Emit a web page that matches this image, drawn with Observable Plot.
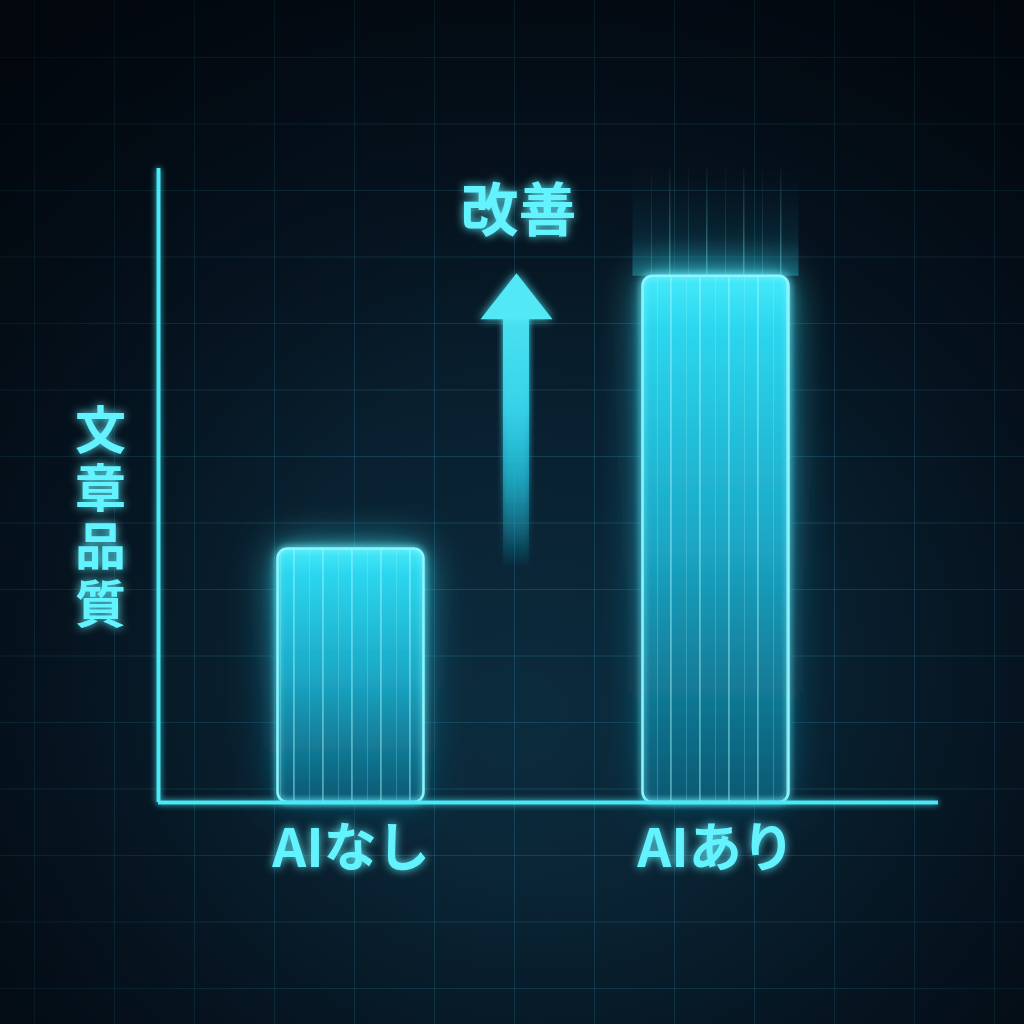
<!DOCTYPE html>
<html><head><meta charset="utf-8">
<script src="https://cdn.jsdelivr.net/npm/d3@7"></script>
<script src="https://cdn.jsdelivr.net/npm/@observablehq/plot@0.6"></script>
<style>
html,body{margin:0;padding:0;background:#030a12;}
#chart{position:relative;width:1024px;height:1024px;overflow:hidden;
 background:
  radial-gradient(ellipse 75% 75% at 55% 60%, rgba(0,0,0,0) 35%, rgba(2,6,12,0.75) 100%),
  linear-gradient(rgba(45,140,170,0.28) 1px, transparent 1px) 0 57px/100% 66.5px,
  linear-gradient(90deg, rgba(45,140,170,0.28) 1px, transparent 1px) 34px 0/80px 100%,
  radial-gradient(ellipse 90% 80% at 50% 70%, #0c2c3e 0%, #081d2c 45%, #030b15 100%);
}
#chart svg{position:absolute;left:0;top:0;}
</style>
</head><body>
<div id="chart"></div>
<script>
// ---- data ----
const categories = ["AIなし", "AIあり"];
const values = [40, 83];
const yLabel = "文章品質";
const arrowLabel = "改善";

const data = categories.map((c, i) => ({category: c, index: i, value: values[i]}));
const before = data[0], after = data[1];
const mid = (before.index + after.index) / 2;
const xDomain = [-0.5274, 1.6096];
const half = 0.2;
const font = "'Noto Sans CJK JP', 'Noto Sans', sans-serif";
const textColor = "#64f3ff";
const tag = name => () => name;

const arrowHead = {
  draw(ctx) {
    ctx.moveTo(0, -3);
    ctx.lineTo(36, 43);
    ctx.lineTo(-36, 43);
    ctx.closePath();
  }
};

const plot = Plot.plot({
  width: 1024, height: 1024,
  marginLeft: 158, marginRight: 86, marginTop: 168, marginBottom: 222,
  style: {background: "transparent", overflow: "visible", fontFamily: font},
  x: {type: "linear", domain: xDomain, axis: null},
  y: {domain: [0, 100], axis: null},
  marks: [
    Plot.rectY(data.filter(d => d.index === after.index), {
      x1: d => d.index - half, x2: d => d.index + half, y1: "value", y2: () => 100,
      insetLeft: -10, insetRight: -10,
      fill: "url(#halo)", ariaLabel: tag("halo")
    }),
    Plot.rectY(data.filter(d => d.index === after.index), {
      x1: d => d.index - half, x2: d => d.index + half, y1: "value", y2: () => 100,
      fill: "url(#haloStreaks)", ariaLabel: tag("halo-streaks")
    }),
    Plot.rectY(data, {
      x1: d => d.index - half, x2: d => d.index + half, y: "value",
      fill: "url(#barGrad)", rx: 10, ariaLabel: tag("bars")
    }),
    Plot.rectY(data, {
      x1: d => d.index - half, x2: d => d.index + half, y: "value",
      fill: "url(#streaks)", rx: 10, ariaLabel: tag("streaks")
    }),
    Plot.rectY(data, {
      x1: d => d.index - half, x2: d => d.index + half, y: "value",
      fill: "none", stroke: "#8af7ff", strokeWidth: 2.5, rx: 10, ariaLabel: tag("bar-edges")
    }),
    // improvement arrow: from before value to after value
    Plot.rectY([{}], {
      x1: () => mid, x2: () => mid, y1: () => before.value - 3, y2: () => after.value - 6,
      insetLeft: -13, insetRight: -13, dx: -17,
      fill: "url(#shaftGrad)", ariaLabel: tag("arrow-shaft")
    }),
    Plot.dot([{}], {
      x: () => mid, y: () => after.value, dx: -17,
      symbol: arrowHead, r: 20, fill: "#52e8f6", stroke: "none", ariaLabel: tag("arrow-head")
    }),
    Plot.text([arrowLabel], {
      x: () => mid, frameAnchor: "top", lineAnchor: "middle", dx: -15, dy: 44,
      text: d => d, fontSize: 58, fontWeight: 700, fill: textColor, ariaLabel: tag("glow-text")
    }),
    // axes
    Plot.ruleY([0], {stroke: "#4aeaf8", strokeWidth: 3.5, ariaLabel: tag("axis-line")}),
    Plot.ruleX([xDomain[0]], {stroke: "#4aeaf8", strokeWidth: 3.5, ariaLabel: tag("axis-line")}),
    // category labels
    Plot.text(data, {
      x: "index", y: () => 0, text: "category", dy: 48,
      fontSize: 53, fontWeight: 700, fill: textColor, ariaLabel: tag("glow-text")
    }),
    // y label (vertical writing)
    Plot.text([yLabel], {
      frameAnchor: "left", textAnchor: "middle", dx: -58, dy: 18, text: d => d,
      fontSize: 51, fontWeight: 700, fill: textColor, ariaLabel: tag("y-label")
    })
  ]
});

const svg = d3.select(plot);
svg.insert("defs", ":first-child").html(`
  <linearGradient id="barGrad" x1="0" y1="0" x2="0" y2="1">
    <stop offset="0" stop-color="#46eafa"/>
    <stop offset="0.1" stop-color="#2cd6ee"/>
    <stop offset="0.5" stop-color="#1ba8c6"/>
    <stop offset="1" stop-color="#0b5872"/>
  </linearGradient>
  <linearGradient id="halo" x1="0" y1="1" x2="0" y2="0">
    <stop offset="0" stop-color="#2fd6ee" stop-opacity="0.35"/>
    <stop offset="0.35" stop-color="#1aa8c8" stop-opacity="0.12"/>
    <stop offset="1" stop-color="#0a6080" stop-opacity="0"/>
  </linearGradient>
  <linearGradient id="haloFade" x1="0" y1="1" x2="0" y2="0">
    <stop offset="0" stop-color="#fff" stop-opacity="1"/>
    <stop offset="1" stop-color="#fff" stop-opacity="0.1"/>
  </linearGradient>
  <mask id="haloMask" maskContentUnits="objectBoundingBox">
    <rect width="1" height="1" fill="url(#haloFade)"/>
  </mask>
  <pattern id="haloStreaks" patternUnits="userSpaceOnUse" width="37" height="10">
    <rect x="3" width="1.5" height="10" fill="rgba(130,240,255,0.4)"/>
    <rect x="22" width="1" height="10" fill="rgba(130,240,255,0.22)"/>
  </pattern>
  <pattern id="streaks" patternUnits="userSpaceOnUse" width="29" height="10">
    <rect x="3" width="1.8" height="10" fill="rgba(170,250,255,0.45)"/>
    <rect x="19" width="1" height="10" fill="rgba(170,250,255,0.22)"/>
  </pattern>
  <linearGradient id="shaftGrad" x1="0" y1="1" x2="0" y2="0">
    <stop offset="0" stop-color="#1aa6c4" stop-opacity="0"/>
    <stop offset="0.35" stop-color="#22bcd8" stop-opacity="0.6"/>
    <stop offset="0.65" stop-color="#38d4ea" stop-opacity="0.95"/>
    <stop offset="1" stop-color="#4ae2f2" stop-opacity="1"/>
  </linearGradient>
  <filter id="barGlow" x="-50%" y="-40%" width="200%" height="180%">
    <feGaussianBlur in="SourceGraphic" stdDeviation="22" result="b2"/>
    <feComponentTransfer in="b2" result="b2a"><feFuncA type="linear" slope="0.7"/></feComponentTransfer>
    <feGaussianBlur in="SourceGraphic" stdDeviation="8" result="b1"/>
    <feComponentTransfer in="b1" result="b1a"><feFuncA type="linear" slope="0.7"/></feComponentTransfer>
    <feMerge><feMergeNode in="b2a"/><feMergeNode in="b1a"/><feMergeNode in="SourceGraphic"/></feMerge>
  </filter>
  <filter id="edgeGlow" x="-20%" y="-20%" width="140%" height="140%">
    <feGaussianBlur in="SourceGraphic" stdDeviation="3" result="b"/>
    <feMerge><feMergeNode in="b"/><feMergeNode in="SourceGraphic"/></feMerge>
  </filter>
  <filter id="textGlow" x="-30%" y="-30%" width="160%" height="160%">
    <feGaussianBlur in="SourceGraphic" stdDeviation="5" result="b"/>
    <feComponentTransfer in="b" result="ba"><feFuncA type="linear" slope="0.9"/></feComponentTransfer>
    <feMerge><feMergeNode in="ba"/><feMergeNode in="SourceGraphic"/></feMerge>
  </filter>
  <filter id="lineGlow" filterUnits="userSpaceOnUse" x="0" y="0" width="1024" height="1024">
    <feGaussianBlur in="SourceGraphic" stdDeviation="3" result="b"/>
    <feMerge><feMergeNode in="b"/><feMergeNode in="SourceGraphic"/><feMergeNode in="SourceGraphic"/></feMerge>
  </filter>
`);
function applyTo(name, attr, value, onParent) {
  svg.selectAll(`[aria-label="${name}"]`).each(function() {
    const el = onParent ? this.parentNode : this;
    d3.select(el).attr(attr, value);
  });
}
applyTo("bars", "filter", "url(#barGlow)", true);
applyTo("bar-edges", "filter", "url(#edgeGlow)", true);
applyTo("glow-text", "filter", "url(#textGlow)", false);
applyTo("y-label", "filter", "url(#textGlow)", false);
applyTo("y-label", "writing-mode", "vertical-rl", false);
applyTo("y-label", "letter-spacing", "7", false);
applyTo("y-label", "dy", null, false);
applyTo("axis-line", "filter", "url(#lineGlow)", false);
applyTo("arrow-head", "filter", "url(#textGlow)", false);
applyTo("arrow-shaft", "filter", "url(#edgeGlow)", false);
applyTo("halo-streaks", "mask", "url(#haloMask)", false);

document.getElementById("chart").appendChild(plot);
</script>
</body></html>
